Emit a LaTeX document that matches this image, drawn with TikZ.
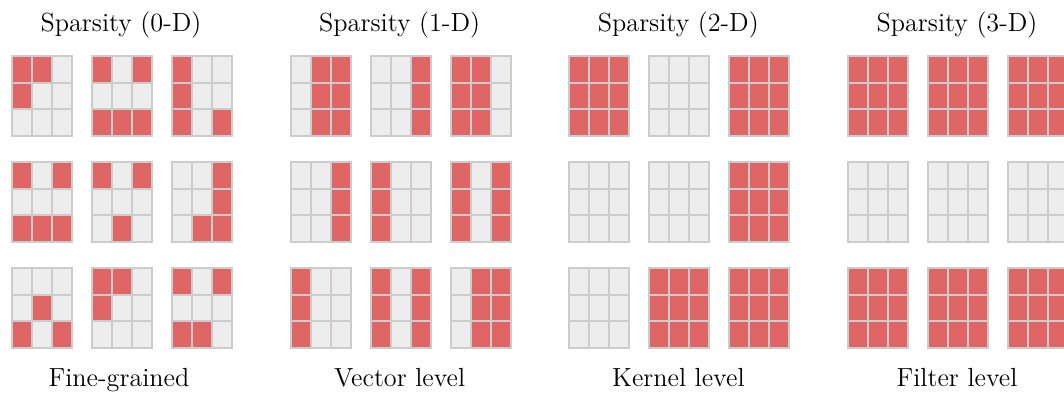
\documentclass[tikz,border=0pt]{standalone}
\definecolor{cellred}{HTML}{E06666}
\definecolor{cellgray}{HTML}{EDEDED}
\definecolor{cellline}{HTML}{CCCCCC}
\newcommand\sgrid[3]{%
  \foreach \v [count=\i from 0] in {#3} {%
    \pgfmathtruncatemacro\cc{mod(\i,3)}%
    \pgfmathtruncatemacro\rr{div(\i,3)}%
    \ifnum\v=1 \def\fc{cellred}\else\def\fc{cellgray}\fi
    \path[cellbox, fill=\fc] ({#1+20*\cc},{#2+26.667*\rr}) rectangle ++(20,26.667);
  }%
}
\begin{document}
\begin{tikzpicture}[x=0.5pt,y=-0.5pt,
  cellbox/.style={draw=cellline, line width=1pt},
  lbl/.style={anchor=base, inner sep=0pt, font=\fontsize{13.1}{16}\selectfont}]
\useasboundingbox (0,0) rectangle (1064,394);
% Group 1: fine-grained
\def\gx{12}
\sgrid{\gx}{56}{1,1,0,1,0,0,0,0,0}
\sgrid{\gx+80}{56}{1,0,1,0,0,0,1,1,1}
\sgrid{\gx+160}{56}{1,0,0,1,0,0,1,0,1}
\sgrid{\gx}{162}{1,0,1,0,0,0,1,1,1}
\sgrid{\gx+80}{162}{1,0,1,0,0,0,0,1,0}
\sgrid{\gx+160}{162}{0,0,1,0,0,1,0,1,1}
\sgrid{\gx}{268}{0,0,0,0,1,0,1,0,1}
\sgrid{\gx+80}{268}{1,1,0,1,0,0,0,0,0}
\sgrid{\gx+160}{268}{1,0,1,0,0,0,1,1,0}
% Group 2: vector level
\def\gx{290.67}
\sgrid{\gx}{56}{0,1,1,0,1,1,0,1,1}
\sgrid{\gx+80}{56}{0,0,1,0,0,1,0,0,1}
\sgrid{\gx+160}{56}{1,1,0,1,1,0,1,1,0}
\sgrid{\gx}{162}{0,0,1,0,0,1,0,0,1}
\sgrid{\gx+80}{162}{1,0,0,1,0,0,1,0,0}
\sgrid{\gx+160}{162}{1,0,1,1,0,1,1,0,1}
\sgrid{\gx}{268}{1,0,0,1,0,0,1,0,0}
\sgrid{\gx+80}{268}{1,0,1,1,0,1,1,0,1}
\sgrid{\gx+160}{268}{0,1,1,0,1,1,0,1,1}
% Group 3: kernel level
\def\gx{569.33}
\sgrid{\gx}{56}{1,1,1,1,1,1,1,1,1}
\sgrid{\gx+80}{56}{0,0,0,0,0,0,0,0,0}
\sgrid{\gx+160}{56}{1,1,1,1,1,1,1,1,1}
\sgrid{\gx}{162}{0,0,0,0,0,0,0,0,0}
\sgrid{\gx+80}{162}{0,0,0,0,0,0,0,0,0}
\sgrid{\gx+160}{162}{1,1,1,1,1,1,1,1,1}
\sgrid{\gx}{268}{0,0,0,0,0,0,0,0,0}
\sgrid{\gx+80}{268}{1,1,1,1,1,1,1,1,1}
\sgrid{\gx+160}{268}{1,1,1,1,1,1,1,1,1}
% Group 4: filter level
\def\gx{848}
\sgrid{\gx}{56}{1,1,1,1,1,1,1,1,1}
\sgrid{\gx+80}{56}{1,1,1,1,1,1,1,1,1}
\sgrid{\gx+160}{56}{1,1,1,1,1,1,1,1,1}
\sgrid{\gx}{162}{0,0,0,0,0,0,0,0,0}
\sgrid{\gx+80}{162}{0,0,0,0,0,0,0,0,0}
\sgrid{\gx+160}{162}{0,0,0,0,0,0,0,0,0}
\sgrid{\gx}{268}{1,1,1,1,1,1,1,1,1}
\sgrid{\gx+80}{268}{1,1,1,1,1,1,1,1,1}
\sgrid{\gx+160}{268}{1,1,1,1,1,1,1,1,1}
% Titles
\node[lbl] (t0) at (121,32) {Sparsity (0-D)};
\node[lbl] (t1) at (399.67,32) {Sparsity (1-D)};
\node[lbl] (t2) at (678.33,32) {Sparsity (2-D)};
\node[lbl] (t3) at (957,32) {Sparsity (3-D)};
% Bottom labels
\node[lbl] (b0) at (119,387) {Fine-grained};
\node[lbl] (b1) at (399.67,387) {Vector level};
\node[lbl] (b2) at (678.33,387) {Kernel level};
\node[lbl] (b3) at (957,387) {Filter level};
\end{tikzpicture}
\end{document}
